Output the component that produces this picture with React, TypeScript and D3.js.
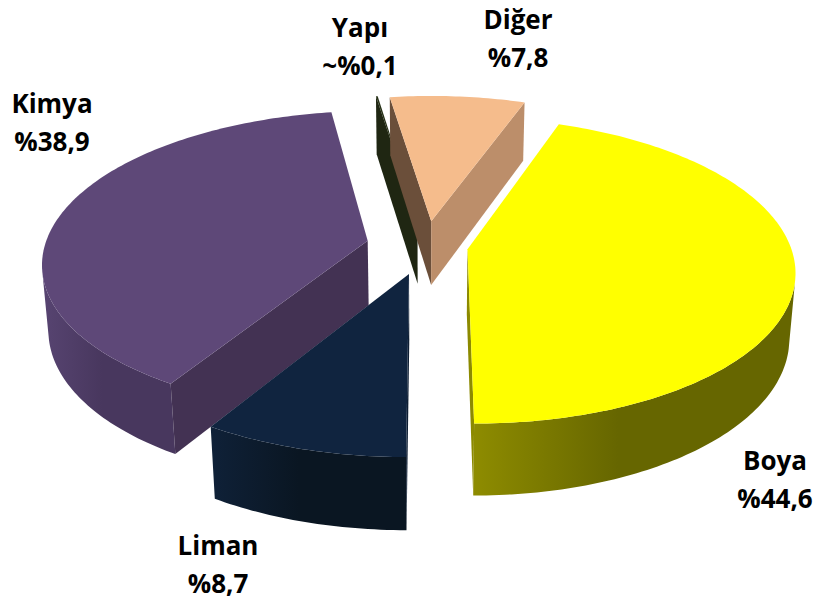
import React from 'react';
import * as d3 from 'd3';

// slice order clockwise from the top, as in the source sheet
const categories = ['Yapı', 'Diğer', 'Boya', 'Liman', 'Kimya'];
const shares = [0.1, 7.8, 44.6, 8.7, 38.9];
const shareLabels = ['~%0,1', '%7,8', '%44,6', '%8,7', '%38,9'];

// styling per slice
const explode = [0.18, 0.17, 0.13, 0.19, 0.185];
const topColors = ['#263016', '#F5BC8C', '#FFFF00', '#10243F', '#5E4878'];
const sideColors: [string, string][] = [
  ['#222a14', '#1f2612'],
  ['#C49470', '#B88C68'],
  ['#8E8C00', '#666600'],
  ['#0F2138', '#0A1622'],
  ['#574471', '#48375E'],
];
const startFaceColors = ['#1F2612', '#6B4F3A', '#8C8A00', '#0E1E33', '#433253'];
const endFaceColors = ['#1F2612', '#BC8E6A', '#8C8A00', '#0E1E33', '#433253'];

const labelPos = [
  { x: 360, y: 37 },
  { x: 518, y: 29 },
  { x: 775, y: 470 },
  { x: 218, y: 555 },
  { x: 52, y: 113 },
];

const W = 819;
const HGT = 600;

// camera / projection
const ELEV = (27.5 * Math.PI) / 180;
const CE = Math.cos(ELEV);
const SE = Math.sin(ELEV);
const DIST = 6.4;
const FOCAL = 2067;
const DEPTH = 0.23;
const CX = 426;
const CY = 246;
const START = (-8.8 * Math.PI) / 180;

const proj = (X: number, Z: number, Y: number): [number, number] => {
  const zc = DIST + Z * CE - Y * SE;
  return [CX + (FOCAL * X) / zc, CY - (FOCAL * (Y * CE + Z * SE)) / zc];
};

const line = d3.line<[number, number]>();

const App: React.FC = () => {
  const pie = d3.pie<number>().sort(null).value(d => d)
    .startAngle(START).endAngle(START + 2 * Math.PI);
  const arcs = pie(shares);
  const camZ = -DIST * CE;

  const slices = arcs.map((a, i) => {
    const mid = (a.startAngle + a.endAngle) / 2;
    const ox = explode[i] * Math.sin(mid);
    const oz = explode[i] * Math.cos(mid);
    const pt = (ang: number, r: number, y: number) =>
      proj(ox + r * Math.sin(ang), oz + r * Math.cos(ang), y);

    const n = Math.max(2, Math.ceil(((a.endAngle - a.startAngle) * 180) / Math.PI));
    const angs = d3.range(n + 1).map(k => a.startAngle + ((a.endAngle - a.startAngle) * k) / n);

    const top = line([pt(0, 0, 0), ...angs.map(g => pt(g, 1, 0))]) + 'Z';

    // visible runs of the curved side
    const vis = (g: number) =>
      -ox * Math.sin(g) - oz * Math.cos(g) - 1 + camZ * Math.cos(g) > 0;
    const runs: number[][] = [];
    let cur: number[] = [];
    angs.forEach(g => {
      if (vis(g)) cur.push(g);
      else if (cur.length) { runs.push(cur); cur = []; }
    });
    if (cur.length) runs.push(cur);
    const sides = runs.filter(r => r.length > 1).map(r =>
      line([...r.map(g => pt(g, 1, 0)), ...r.slice().reverse().map(g => pt(g, 1, -DEPTH))]) + 'Z');

    const face = (g: number) =>
      line([pt(0, 0, 0), pt(g, 1, 0), pt(g, 1, -DEPTH), pt(0, 0, -DEPTH)]) + 'Z';
    const a1 = a.startAngle;
    const a2 = a.endAngle;
    const sVis = -Math.cos(a1) * -ox + Math.sin(a1) * (camZ - oz) > 0;
    const eVis = Math.cos(a2) * -ox - Math.sin(a2) * (camZ - oz) > 0;

    const depth = DIST + (oz + 0.6 * Math.cos(mid)) * CE;
    return { i, top, sides, start: sVis ? face(a1) : null, end: eVis ? face(a2) : null, depth };
  });

  const order = slices.slice().sort((p, q) => q.depth - p.depth);

  return (
    <svg width={W} height={HGT} style={{ position: 'absolute', left: 0, top: 0, background: '#fff' }}>
      <defs>
        {sideColors.map((c, i) => (
          <linearGradient key={i} id={`side${i}`} x1="0" x2="1" y1="0" y2="0">
            <stop offset="0" stopColor={c[0]} />
            <stop offset="0.45" stopColor={c[1]} />
            <stop offset="1" stopColor={c[1]} />
          </linearGradient>
        ))}
      </defs>
      {order.map(s => (
        <g key={categories[s.i]}>
          {s.sides.map((d, k) => <path key={k} d={d} fill={`url(#side${s.i})`} />)}
          {s.start && <path d={s.start} fill={startFaceColors[s.i]} />}
          {s.end && <path d={s.end} fill={endFaceColors[s.i]} />}
          <path d={s.top} fill={topColors[s.i]} />
        </g>
      ))}
      {categories.map((c, i) => (
        <text key={c} x={labelPos[i].x} y={labelPos[i].y} textAnchor="middle"
          fontFamily="'Open Sans', sans-serif" fontWeight="bold" fontSize={26} fill="#000">
          <tspan x={labelPos[i].x}>{c}</tspan>
          <tspan x={labelPos[i].x} dy={38}>{shareLabels[i]}</tspan>
        </text>
      ))}
    </svg>
  );
};

export default App;
